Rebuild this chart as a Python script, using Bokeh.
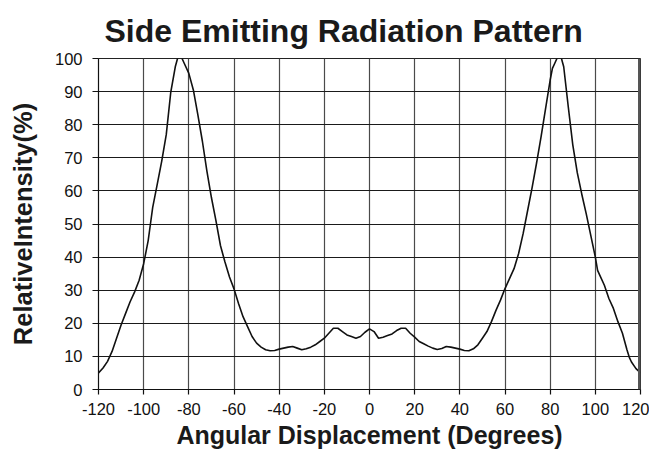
import numpy as np
from bokeh.plotting import figure
from bokeh.models import Span, FixedTicker, Range1d
from bokeh.embed import file_html
from bokeh.resources import INLINE

angle_deg = [-120, -118, -116, -114, -112, -110, -108, -106, -104, -102, -100,
             -98, -97, -96, -94, -92, -90, -88, -86, -85, -84, -83, -82, -80,
             -78, -76, -74, -72, -70, -68, -66, -64, -62, -60, -58, -56, -54,
             -52, -50, -48, -46, -44, -42, -40, -38, -36, -34, -32, -30, -28,
             -26, -24, -22, -20, -18, -16, -14, -12, -10, -8, -6, -4, -2, 0,
             2, 4, 6, 8, 10, 12, 14, 16, 18, 20, 22, 24, 26, 28, 30, 32, 34,
             36, 38, 40, 42, 44, 46, 48, 50, 52, 54, 56, 58, 60, 62, 64, 66,
             68, 70, 72, 74, 76, 78, 80, 81, 82, 83, 84, 85, 86, 88, 90, 92,
             94, 96, 98, 100, 101, 102, 104, 106, 108, 110, 112, 113, 114, 115,
             116, 118, 120]
intensity = [5, 6.5, 8.5, 11.5, 15.5, 19.5, 23, 26.5, 29.5, 33, 38,
             45, 50, 55, 62, 69, 77, 89.8, 97.5, 100, 100.5, 100, 98.5, 95.5,
             90.5, 83, 75, 66, 58, 51, 43.5, 38.5, 34, 30.4, 26, 22, 19,
             16, 14, 12.8, 12, 11.7, 11.8, 12.2, 12.5, 12.8, 13, 12.5, 12, 12.3,
             12.8, 13.5, 14.5, 15.5, 17, 18.5, 18.5, 17.5, 16.5, 16, 15.5, 16, 17.3, 18.3,
             17.5, 15.5, 15.8, 16.3, 16.8, 17.8, 18.5, 18.5, 17, 15.8, 14.5, 13.8, 13.1, 12.5, 12.1, 12.4, 13,
             12.8, 12.5, 12.2, 11.8, 11.7, 12.3, 13.5, 15.5, 17.5, 20.5, 23.9, 27, 30.5, 33.5, 36.5, 41,
             47, 54, 61, 68.5, 76.5, 85, 93.5, 97, 98.5, 100, 100.3, 100, 97.5, 85.5, 74, 65.5,
             59, 53, 46.5, 40, 36, 34.5, 31.5, 27.5, 24.5, 20.5, 17, 14.5, 12, 9.8,
             8.3, 6.3, 5]
x_ticks = list(range(-120, 121, 20))
y_ticks = list(range(0, 101, 10))
x_tick_labels = [str(t) for t in x_ticks]
y_tick_labels = [str(t) for t in y_ticks]

title_text = "Side Emitting Radiation Pattern"
x_label = "Angular Displacement (Degrees)"
y_label = "RelativeIntensity(%)"

W, H = 649, 453
p = figure(width=W, height=H, output_backend="svg", toolbar_location=None,
           x_range=Range1d(-120, 120), y_range=Range1d(0, 100),
           min_border_left=98, min_border_right=W - 640, min_border_top=58,
           min_border_bottom=H - 389)
p.background_fill_color = "white"
p.border_fill_color = "white"
p.outline_line_color = "#222222"
p.outline_line_width = 1

FONT = "Liberation Sans"
xa, ya = p.below[0], p.left[0]

p.title.text = title_text
p.title.align = "left"
p.title.offset = 6
p.title.text_font = FONT
p.title.text_font_size = "32px"
p.title.text_font_style = "bold"
p.title.text_color = "#1a1a1a"
p.title.standoff = 19

for ax in (xa, ya):
    ax.axis_line_color = "#111111"
    ax.axis_line_width = 1.2
    ax.major_tick_line_color = "#111111"
    ax.major_tick_line_width = 1.2
    ax.major_tick_in = 0
    ax.minor_tick_line_color = None
    ax.major_label_text_font = FONT
    ax.major_label_text_font_size = "16.5px"
    ax.major_label_text_color = "#111111"
    ax.axis_label_text_font = FONT
    ax.axis_label_text_font_style = "bold"
    ax.axis_label_text_color = "#1a1a1a"
xa.ticker = FixedTicker(ticks=x_ticks)
ya.ticker = FixedTicker(ticks=y_ticks)
xa.major_label_overrides = dict(zip(x_ticks, x_tick_labels))
ya.major_label_overrides = dict(zip(y_ticks, y_tick_labels))
xa.major_tick_out = 5
ya.major_tick_out = 6
xa.major_label_standoff = 8
ya.major_label_standoff = 10
xa.axis_label = x_label
ya.axis_label = y_label
xa.axis_label_text_font_size = "25px"
ya.axis_label_text_font_size = "25.5px"
xa.axis_label_standoff = 3
ya.axis_label_standoff = 15

p.xgrid.ticker = FixedTicker(ticks=x_ticks)
p.ygrid.ticker = FixedTicker(ticks=y_ticks)
p.xgrid.grid_line_color = "#4a4a4a"
p.ygrid.grid_line_color = "#1a1a1a"
p.xgrid.grid_line_width = 1.2
p.ygrid.grid_line_width = 1.2

p.line(angle_deg, intensity, line_color="#111111", line_width=1.6)

p.add_layout(Span(location=120, dimension="height", line_color="#555555", line_width=5))

open("out.html", "w").write(file_html(p, INLINE))
